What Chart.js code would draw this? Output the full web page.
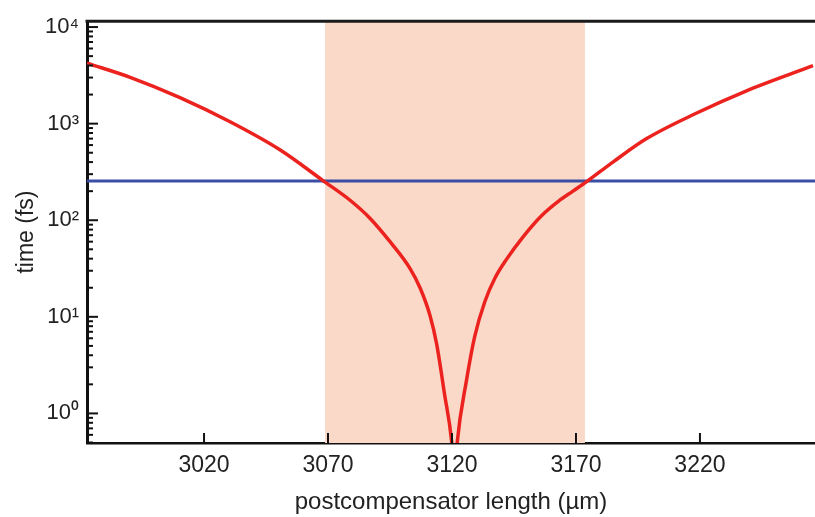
<!DOCTYPE html>
<html>
<head>
<meta charset="utf-8">
<script src="https://cdn.jsdelivr.net/npm/chart.js@4"></script>
<style>
	html, body { margin: 0; padding: 0; background: #fff; }
	#wrap { width: 815px; height: 517px; }
</style>
</head>
<body>
<div id="wrap"><canvas id="chart"></canvas></div>
<script>
// Red curve: postcompensator length (µm) vs time (fs)
const lengthsUm = [
	2972.8, 2990.2, 3010.3, 3030.5, 3050.6, 3068.0, 3078.9, 3086.9, 3095.0, 3103.1,
	3107.1, 3111.1, 3113.8, 3117.0, 3119.9, 3121.0, 3122.1, 3125.9, 3129.2, 3133.3,
	3137.3, 3142.1, 3148.6, 3156.2, 3163.0, 3168.8, 3174.3, 3184.9, 3198.5, 3218.7,
	3238.8, 3265.6,
];
const timesFs = [
	4227, 3020, 1862, 1047, 537, 257, 161, 105, 60, 31.6,
	20, 10.4, 5.25, 1.58, 0.5, 0.2, 0.5, 2.24, 6.31, 14.5,
	25.1, 39.8, 67, 112, 158, 200, 251, 400, 700, 1288,
	2188, 3981,
];

// Blue horizontal level
const thresholdFs = 255;

// Shaded band (µm)
const bandStart = 3068.8;
const bandEnd = 3173.6;

// Axes
const xMin = 2972.8;
const xMax = 3266.4;
const yMin = 0.494;
const yMax = 11500;
const xTickValues = [3020, 3070, 3120, 3170, 3220];
const yDecades = [-1, 0, 1, 2, 3, 4];
const supers = { "-": "⁻", 0: "⁰", 1: "¹", 2: "²", 3: "³", 4: "⁴" };

const font = "'Liberation Sans', Arial, Helvetica, sans-serif";

// Shaded band behind the curves
const bandPlugin = {
	id: "band",
	beforeDatasetsDraw(chart) {
		const { ctx, chartArea, scales } = chart;
		const x0 = scales.x.getPixelForValue(bandStart);
		const x1 = scales.x.getPixelForValue(bandEnd);
		ctx.save();
		ctx.fillStyle = "rgb(250,217,200)";
		ctx.fillRect(x0, chartArea.top, x1 - x0, chartArea.bottom - chartArea.top);
		ctx.restore();
	},
};

// Inward tick marks and top frame line
const framePlugin = {
	id: "frame",
	afterDatasetsDraw(chart) {
		const { ctx, chartArea, scales } = chart;
		ctx.save();
		ctx.strokeStyle = "#111";
		ctx.lineWidth = 2;
		scales.x.ticks.forEach((t) => {
			const px = scales.x.getPixelForValue(t.value);
			ctx.beginPath();
			ctx.moveTo(px, chartArea.bottom);
			ctx.lineTo(px, chartArea.bottom - 10);
			ctx.stroke();
		});
		scales.y.ticks.forEach((t) => {
			const py = scales.y.getPixelForValue(t.value);
			ctx.beginPath();
			ctx.moveTo(chartArea.left, py);
			ctx.lineTo(chartArea.left + (t.major ? 11 : 6), py);
			ctx.stroke();
		});
		ctx.strokeStyle = "#1a1a1a";
		ctx.lineWidth = 3;
		ctx.beginPath();
		ctx.moveTo(chartArea.left - 1.5, chartArea.top);
		ctx.lineTo(chartArea.right, chartArea.top);
		ctx.stroke();
		ctx.restore();
	},
};

function yTicks() {
	const ticks = [];
	yDecades.forEach((d) => {
		for (let m = 1; m <= 9; m++) {
			const v = m * Math.pow(10, d);
			if (v >= yMin && v <= yMax) ticks.push({ value: v, major: m === 1 });
		}
	});
	return ticks;
}

new Chart(document.getElementById("chart"), {
	type: "line",
	data: {
		datasets: [
			{
				data: lengthsUm.map((x, i) => ({ x, y: timesFs[i] })),
				borderColor: "rgb(236,34,30)",
				borderWidth: 3.5,
				pointRadius: 0,
				cubicInterpolationMode: "monotone",
			},
			{
				data: [
					{ x: xMin, y: thresholdFs },
					{ x: xMax, y: thresholdFs },
				],
				borderColor: "rgb(58,78,165)",
				borderWidth: 3,
				pointRadius: 0,
			},
		],
	},
	options: {
		responsive: true,
		maintainAspectRatio: false,
		animation: false,
		layout: { padding: { top: 16, right: 0, bottom: 0, left: 0 } },
		plugins: {
			legend: { display: false },
			tooltip: { enabled: false },
		},
		scales: {
			x: {
				type: "linear",
				min: xMin,
				max: xMax,
				afterBuildTicks: (scale) => {
					scale.ticks = xTickValues.map((v) => ({ value: v }));
				},
				afterFit: (scale) => {
					scale.height = 74;
				},
				grid: { display: false, drawTicks: false },
				border: { display: true, color: "#111", width: 2.5 },
				ticks: {
					color: "#222",
					padding: 9,
					maxRotation: 0,
					autoSkip: false,
					font: { family: font, size: 23 },
					callback: (v) => String(v),
				},
				title: {
					display: true,
					text: "postcompensator length (µm)",
					color: "#222",
					font: { family: font, size: 24 },
					padding: { top: 2, bottom: 0 },
				},
			},
			y: {
				type: "logarithmic",
				min: yMin,
				max: yMax,
				afterBuildTicks: (scale) => {
					scale.ticks = yTicks();
				},
				afterFit: (scale) => {
					scale.width = 87;
				},
				grid: { display: false, drawTicks: false },
				border: { display: true, color: "#111", width: 3 },
				ticks: {
					color: "#222",
					padding: 8,
					autoSkip: false,
					font: { family: font, size: 22 },
					callback: (v) => {
						const d = Math.round(Math.log10(v));
						if (Math.abs(v - Math.pow(10, d)) > 1e-9 * v) return "";
						return "10" + String(d).split("").map((c) => supers[c]).join("");
					},
				},
				title: {
					display: true,
					text: "time (fs)",
					color: "#222",
					font: { family: font, size: 23 },
					padding: { top: 13, bottom: 0 },
				},
			},
		},
	},
	plugins: [bandPlugin, framePlugin],
});
</script>
</body>
</html>
